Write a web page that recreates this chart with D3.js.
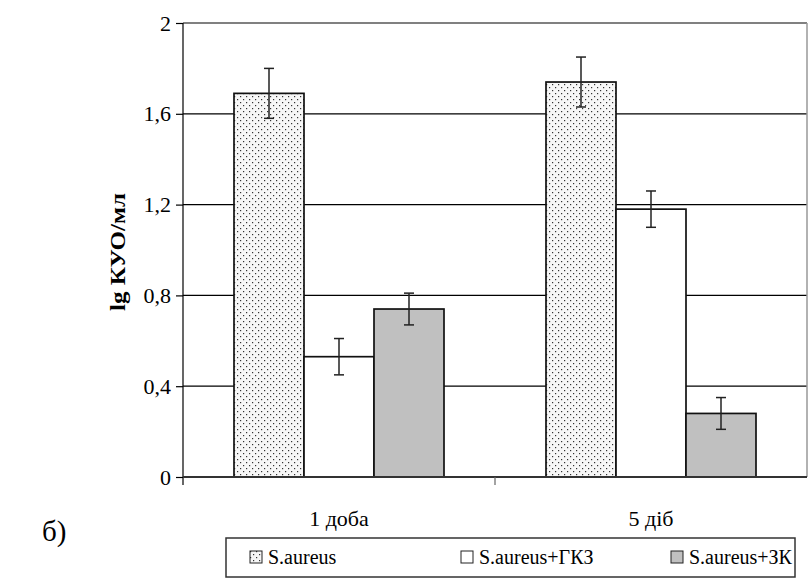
<!DOCTYPE html>
<html>
<head>
<meta charset="utf-8">
<script src="https://cdn.jsdelivr.net/npm/d3@7"></script>
<style>
  body { margin: 0; background: #fff; }
  svg text { font-family: "Liberation Serif", "Times New Roman", Tinos, "DejaVu Serif", serif; fill: #000; }
</style>
</head>
<body>
<div id="chart"></div>
<script>
////////
// Data
let categories = ["1 доба", "5 діб"];
let seriesNames = ["S.aureus", "S.aureus+ГКЗ", "S.aureus+ЗК"];
let saureus = [1.69, 1.74];
let saureusGKZ = [0.53, 1.18];
let saureusZK = [0.74, 0.28];
let errSaureus = [0.11, 0.11];
let errGKZ = [0.08, 0.08];
let errZK = [0.07, 0.07];
let yTicks = [0, 0.4, 0.8, 1.2, 1.6, 2];

let seriesValues = [saureus, saureusGKZ, saureusZK];
let seriesErrors = [errSaureus, errGKZ, errZK];

let serif = '"Liberation Serif", "Times New Roman", Tinos, "DejaVu Serif", serif';

////////
// Canvas
let svg_width = 810;
let svg_height = 586;
let plotLeft = 183, plotRight = 807, plotTop = 23, plotBottom = 477;

let svg = d3.select("#chart")
  .append("svg")
  .attr("width", svg_width)
  .attr("height", svg_height)
  .attr("font-family", serif);

// dotted fill for the first series
let defs = svg.append("defs");
let pat = defs.append("pattern")
  .attr("id", "dots")
  .attr("patternUnits", "userSpaceOnUse")
  .attr("width", 6)
  .attr("height", 6);
pat.append("rect").attr("width", 6).attr("height", 6).attr("fill", "#f7f7f7");
pat.append("rect").attr("x", 0).attr("y", 0).attr("width", 1.2).attr("height", 1.2).attr("fill", "#333");
pat.append("rect").attr("x", 3).attr("y", 3).attr("width", 1.2).attr("height", 1.2).attr("fill", "#333");

let fills = ["url(#dots)", "#ffffff", "#c0c0c0"];

////////
// Scales
let xScale = d3.scaleBand()
  .domain(categories)
  .range([plotLeft, plotRight])
  .padding(0);

let barScale = d3.scaleBand()
  .domain(d3.range(seriesNames.length))
  .range([51, xScale.bandwidth() - 51])
  .padding(0);

let yScale = d3.scaleLinear()
  .domain([0, 2])
  .range([plotBottom, plotTop]);

////////
// Gridlines
svg.append("g")
  .selectAll("line")
  .data(yTicks.filter(d => d > 0))
  .enter()
  .append("line")
  .attr("x1", plotLeft)
  .attr("x2", plotRight)
  .attr("y1", d => yScale(d))
  .attr("y2", d => yScale(d))
  .attr("stroke", d => d === 2 ? "#808080" : "#000")
  .attr("stroke-width", d => d === 2 ? 2 : 1.2);

// right border
svg.append("line")
  .attr("x1", plotRight).attr("x2", plotRight)
  .attr("y1", plotTop).attr("y2", plotBottom)
  .attr("stroke", "#999").attr("stroke-width", 1.5);

////////
// Bars
let groups = svg.selectAll(".series")
  .data(seriesValues)
  .enter()
  .append("g")
  .attr("class", "series");

groups.each(function(vals, si) {
  let g = d3.select(this);
  g.selectAll("rect")
    .data(vals)
    .enter()
    .append("rect")
    .attr("x", (d, i) => xScale(categories[i]) + barScale(si))
    .attr("y", d => yScale(d))
    .attr("width", barScale.bandwidth())
    .attr("height", d => yScale(0) - yScale(d))
    .attr("fill", fills[si])
    .attr("stroke", "#111")
    .attr("stroke-width", 1.7);
});

// Error bars
groups.each(function(vals, si) {
  let g = d3.select(this);
  let errs = seriesErrors[si];
  vals.forEach(function(v, i) {
    let cx = xScale(categories[i]) + barScale(si) + barScale.bandwidth() / 2;
    let y1 = yScale(v + errs[i]);
    let y2 = yScale(v - errs[i]);
    g.append("line").attr("x1", cx).attr("x2", cx).attr("y1", y1).attr("y2", y2)
      .attr("stroke", "#222").attr("stroke-width", 1.5);
    [y1, y2].forEach(function(yy) {
      g.append("line").attr("x1", cx - 5).attr("x2", cx + 5).attr("y1", yy).attr("y2", yy)
        .attr("stroke", "#222").attr("stroke-width", 1.5);
    });
  });
});

////////
// Axes
let yAxis = d3.axisLeft(yScale)
  .tickValues(yTicks)
  .tickSize(7)
  .tickPadding(5)
  .tickFormat(d => d3.format(".1~f")(d).replace(".", ","));

let yg = svg.append("g")
  .attr("transform", `translate(${plotLeft},0)`)
  .call(yAxis)
  .attr("font-family", serif)
  .attr("font-size", 22);
yg.select(".domain").attr("stroke", "#000").attr("stroke-width", 1.2)
  .attr("d", `M0,${plotTop}V${plotBottom + 8}`);
yg.selectAll(".tick line").attr("stroke", "#000").attr("stroke-width", 1.2);
yg.selectAll(".tick text").attr("fill", "#000");

let xAxis = d3.axisBottom(xScale)
  .tickSize(0)
  .tickPadding(33);

let xg = svg.append("g")
  .attr("transform", `translate(0,${plotBottom})`)
  .call(xAxis)
  .attr("font-family", serif)
  .attr("font-size", 22);
xg.select(".domain").attr("stroke", "#333").attr("stroke-width", 2)
  .attr("d", `M${plotLeft},0H${plotRight}`);
xg.selectAll(".tick text").attr("fill", "#000");

// category divider tick
svg.append("line")
  .attr("x1", xScale(categories[1])).attr("x2", xScale(categories[1]))
  .attr("y1", plotBottom).attr("y2", plotBottom + 8)
  .attr("stroke", "#666").attr("stroke-width", 1.2);

// Y title
svg.append("text")
  .attr("transform", "translate(125,252) rotate(-90)")
  .attr("text-anchor", "middle")
  .attr("textLength", 118)
  .attr("lengthAdjust", "spacingAndGlyphs")
  .attr("font-size", 20)
  .attr("font-weight", "bold")
  .text("lg КУО/мл");

// б)
svg.append("text")
  .attr("x", 42)
  .attr("y", 541)
  .attr("font-size", 29)
  .text("б)");

////////
// Legend
let legend = svg.append("g");
legend.append("rect")
  .attr("x", 226).attr("y", 538)
  .attr("width", 569).attr("height", 39)
  .attr("fill", "#fff")
  .attr("stroke", "#333").attr("stroke-width", 1.5);

let legendX = [250, 461, 671];
let items = legend.selectAll(".item")
  .data(seriesNames)
  .enter()
  .append("g")
  .attr("transform", (d, i) => `translate(${legendX[i]},557)`);

items.append("rect")
  .attr("x", 0).attr("y", -6)
  .attr("width", 12).attr("height", 12)
  .attr("fill", (d, i) => fills[i])
  .attr("stroke", "#222").attr("stroke-width", 1);

items.append("text")
  .attr("x", 18)
  .attr("y", 7)
  .attr("font-size", 20)
  .text(d => d);
</script>
</body>
</html>
